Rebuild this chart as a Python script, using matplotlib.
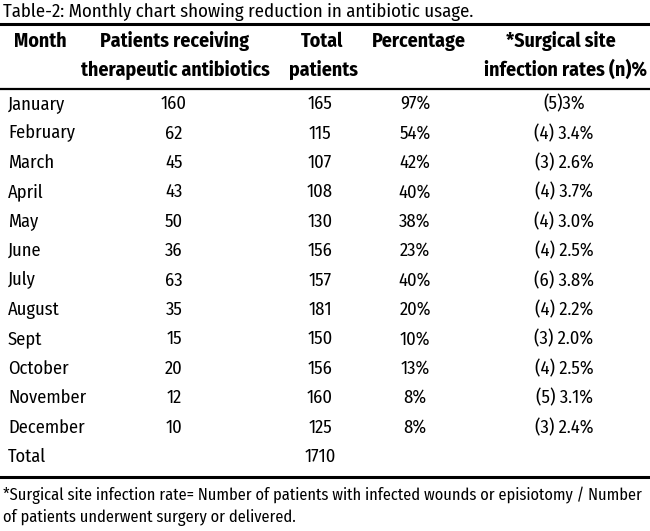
import matplotlib.pyplot as plt

# Table values
months = ["January", "February", "March", "April", "May", "June", "July",
          "August", "Sept", "October", "November", "December"]
patients_rx = [160, 62, 45, 43, 50, 36, 63, 35, 15, 20, 12, 10]
total_patients = [165, 115, 107, 108, 130, 156, 157, 181, 150, 156, 160, 125]
percentage = ["97%", "54%", "42%", "40%", "38%", "23%", "40%", "20%", "10%",
              "13%", "8%", "8%"]
ssi_rates = ["(5)3%", "(4) 3.4%", "(3) 2.6%", "(4) 3.7%", "(4) 3.0%",
             "(4) 2.5%", "(6) 3.8%", "(4) 2.2%", "(3) 2.0%", "(4) 2.5%",
             "(5) 3.1%", "(3) 2.4%"]
grand_total = 1710

title = "Table-2: Monthly chart showing reduction in antibiotic usage."
headers = [("Month", ""), ("Patients receiving", "therapeutic antibiotics"),
           ("Total", "patients"), ("Percentage", ""),
           ("*Surgical site", "infection rates (n)%")]
footnote = ["*Surgical site infection rate= Number of patients with infected wounds or episiotomy / Number",
            "of patients underwent surgery or delivered."]

plt.rcParams['font.family'] = ['Fira Sans Condensed', 'DejaVu Sans']

fig = plt.figure(figsize=(6.5, 5.31), dpi=100)
ax = fig.add_axes([0, 0, 1, 1])
ax.set_xlim(0, 650)
ax.set_ylim(531, 0)
ax.axis('off')

fs = 13.3
ax.text(3, 12, title, fontsize=13.5, va='center', ha='left')

# rules
ax.plot([0, 650], [24, 24], color='black', lw=2.2)
ax.plot([0, 650], [89, 89], color='black', lw=1.6)
ax.plot([0, 650], [477, 477], color='black', lw=2.2)

# header
hfs = 14.3
head_x = [[40, 40], [175, 175], [322, 323], [419, 419], [561, 565]]
for (l1, l2), (x1, x2) in zip(headers, head_x):
    ax.text(x1, 41, l1, fontsize=hfs, fontweight='bold', ha='center', va='center')
    if l2:
        ax.text(x2, 70, l2, fontsize=hfs, fontweight='bold', ha='center', va='center')

col_x = [8, 174, 320, 415, 564]
y0, dy = 104, 29.4
for i in range(len(months)):
    y = y0 + i * dy
    ax.text(col_x[0], y, months[i], fontsize=fs, ha='left', va='center')
    ax.text(col_x[1], y, str(patients_rx[i]), fontsize=fs, ha='center', va='center')
    ax.text(col_x[2], y, str(total_patients[i]), fontsize=fs, ha='center', va='center')
    ax.text(col_x[3], y, percentage[i], fontsize=fs, ha='center', va='center')
    ax.text(col_x[4], y, ssi_rates[i], fontsize=fs, ha='center', va='center')

y = y0 + len(months) * dy
ax.text(col_x[0], y, "Total", fontsize=fs, ha='left', va='center')
ax.text(col_x[2], y, str(grand_total), fontsize=fs, ha='center', va='center')

ax.text(3, 495, footnote[0], fontsize=11.8, ha='left', va='center')
ax.text(3, 517, footnote[1], fontsize=11.8, ha='left', va='center')

fig.savefig("out.png", dpi=100)
